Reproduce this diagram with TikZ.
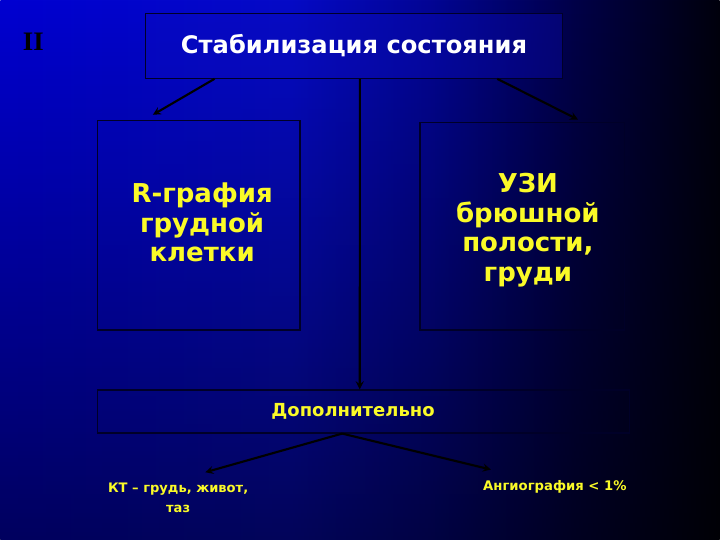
\documentclass[tikz,border=0pt]{standalone}
\usepackage{fontspec}
\setmainfont{DejaVu Sans}
\newfontfamily\romfont{Liberation Serif}
\usepackage{tikz}
\usepackage{xcolor}
\usetikzlibrary{calc}
\usetikzlibrary{positioning}
\usetikzlibrary{fadings}

\definecolor{slideyellow}{RGB}{250,250,40}
\definecolor{edgenavy}{RGB}{0,0,40}
\definecolor{titleblue}{RGB}{12,12,190}

\pgfdeclarehorizontalshading{slidebg}{100bp}{%
  rgb(0bp)=(0,0,0.82);
  rgb(25bp)=(0,0,0.82);
  rgb(45bp)=(0.02,0.04,0.78);
  rgb(55bp)=(0.01,0.02,0.58);
  rgb(65bp)=(0,0,0.28);
  rgb(75bp)=(0,0,0.05);
  rgb(100bp)=(0,0,0.05)}

\tikzset{
  panel/.style={draw=edgenavy, line width=0.9pt, inner sep=0pt},
  bigtext/.style={text=slideyellow, font=\bfseries\fontsize{18.5}{21}\selectfont, align=center},
  smalltext/.style={text=slideyellow, font=\bfseries\fontsize{9.3}{11}\selectfont, align=center},
  link/.style={draw=black, line width=1.5pt, -stealth}
}

\begin{document}
\begin{tikzpicture}
\draw[opacity=0] (0,0) rectangle (18,13.5);

% background
\shade[shading=slidebg] (0,0) rectangle (18,13.5);
\fill[black, path fading=north, opacity=0.55] (0,0) rectangle (18,13.5);

\node[font=\romfont\bfseries\fontsize{19}{19}\selectfont, text=black] (num) at (0.825,12.45) {II};

% boxes
\node[panel, fill=titleblue, fill opacity=0.35, text opacity=1, text=white,
      font=\bfseries\fontsize{17.2}{19}\selectfont,
      minimum width=10.45cm, minimum height=1.625cm] (title) at (8.85,12.3625)
  {Стабилизация состояния};

\node[panel, minimum width=5.075cm, minimum height=5.25cm] (rg) at (4.9625,7.875) {};
\node[bigtext] (rgtext) at (5.05,7.94) {R-графия\\грудной\\клетки};
\node[panel, minimum width=5.125cm, minimum height=5.2cm] (uzi) at (13.0625,7.85) {};
\node[bigtext] (uzitext) at (13.2,7.75) {УЗИ\\брюшной\\полости,\\груди};

\node[panel, minimum width=13.325cm, minimum height=1.075cm] (dopbox) at (9.0875,3.2125) {};
\node[text=slideyellow, font=\bfseries\fontsize{12.8}{15}\selectfont] (dop) at (8.825,3.225)
  {Дополнительно};

\node[smalltext] (kt) at (4.45,1.05) {КТ – грудь, живот,\\[3pt]таз};
\node[smalltext, font=\bfseries\fontsize{9.4}{11}\selectfont] (angio) at (13.875,1.325) {Ангиография < 1\%};

% links
\draw[link] ($(title.south west)!0.167!(title.south east)$)
  -- ($(rg.north west)!0.276!(rg.north east)+(0,0.12)$);
\draw[link] ($(title.south west)!0.842!(title.south east)$)
  -- ($(uzi.north west)!0.77!(uzi.north east)+(0,0.05)$);
\draw[link] ($(title.south west)!0.514!(title.south east)$)
  -- ($(dopbox.north west)!0.493!(dopbox.north east)$);
\draw[link] ($(dopbox.south west)!0.46!(dopbox.south east)$)
  -- ($(kt.north)+(0.68,0.15)$);
\draw[link] ($(dopbox.south west)!0.46!(dopbox.south east)$)
  -- ($(angio.north)+(-1.6,0.15)$);
\end{tikzpicture}
\end{document}
